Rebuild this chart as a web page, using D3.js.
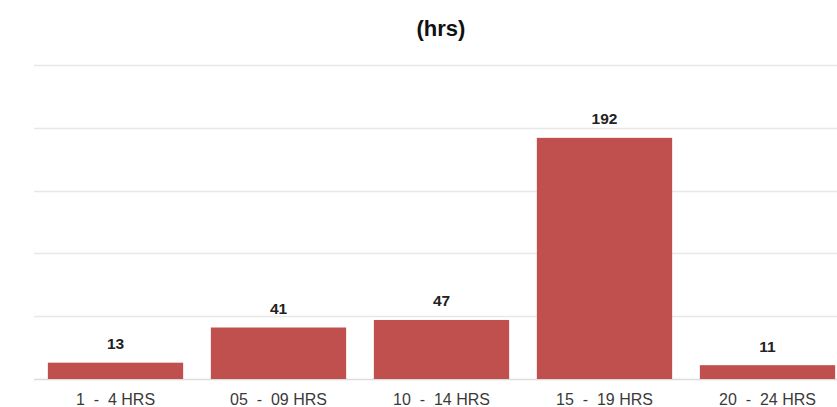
<!DOCTYPE html>
<html lang="en">
<head>
    <meta charset="UTF-8">
    <title>(hrs)</title>
    <script src="https://cdnjs.cloudflare.com/ajax/libs/d3/7.8.5/d3.min.js"></script>
    <style>
        body {
            margin: 0;
            background-color: #ffffff;
            font-family: "Liberation Sans", Arial, sans-serif;
        }
        svg { display: block; }
        .title { font-size: 22px; font-weight: bold; fill: #111; text-anchor: middle; }
        .value-label { font-size: 15.5px; font-weight: bold; fill: #222; text-anchor: middle; }
        .x-label { font-size: 16px; fill: #3a3a3a; text-anchor: middle; white-space: pre; }
    </style>
</head>
<body>
    <svg width="837" height="407"></svg>
    <script>
const categories = ["1  -  4 HRS", "05  -  09 HRS", "10  -  14 HRS", "15  -  19 HRS", "20  -  24 HRS"];
const values = [13, 41, 47, 192, 11];
const gridTicks = [0, 50, 100, 150, 200, 250];

const svg = d3.select("svg");
const width = +svg.attr("width");

const x = d3.scaleBand()
    .domain(categories)
    .range([34, 849])
    .paddingInner(0.17)
    .paddingOuter(0.085);

const y = d3.scaleLinear()
    .domain([0, 250])
    .range([379, 65]);

// title
svg.append("text")
    .attr("class", "title")
    .attr("x", 441)
    .attr("y", 36)
    .text("(hrs)");

// gridlines
svg.append("g")
    .selectAll("line")
    .data(gridTicks)
    .enter().append("line")
    .attr("x1", 34)
    .attr("x2", width)
    .attr("y1", d => Math.round(y(d)) + 0.5)
    .attr("y2", d => Math.round(y(d)) + 0.5)
    .attr("stroke", d => d === 0 ? "#dcdcdc" : "#e8e8e8")
    .attr("stroke-width", 1.5);

// bars
svg.append("g")
    .selectAll("rect")
    .data(values)
    .enter().append("rect")
    .attr("x", (d, i) => x(categories[i]))
    .attr("y", d => y(d))
    .attr("width", x.bandwidth())
    .attr("height", d => y(0) - y(d))
    .attr("fill", "#c0504d");

// value labels
svg.append("g")
    .selectAll("text")
    .data(values)
    .enter().append("text")
    .attr("class", "value-label")
    .attr("x", (d, i) => x(categories[i]) + x.bandwidth() / 2)
    .attr("y", d => y(d) - 13.5)
    .text(d => d);

// category labels
svg.append("g")
    .selectAll("text")
    .data(categories)
    .enter().append("text")
    .attr("class", "x-label")
    .attr("x", d => x(d) + x.bandwidth() / 2)
    .attr("y", 405)
    .text(d => d);
    </script>
</body>
</html>
